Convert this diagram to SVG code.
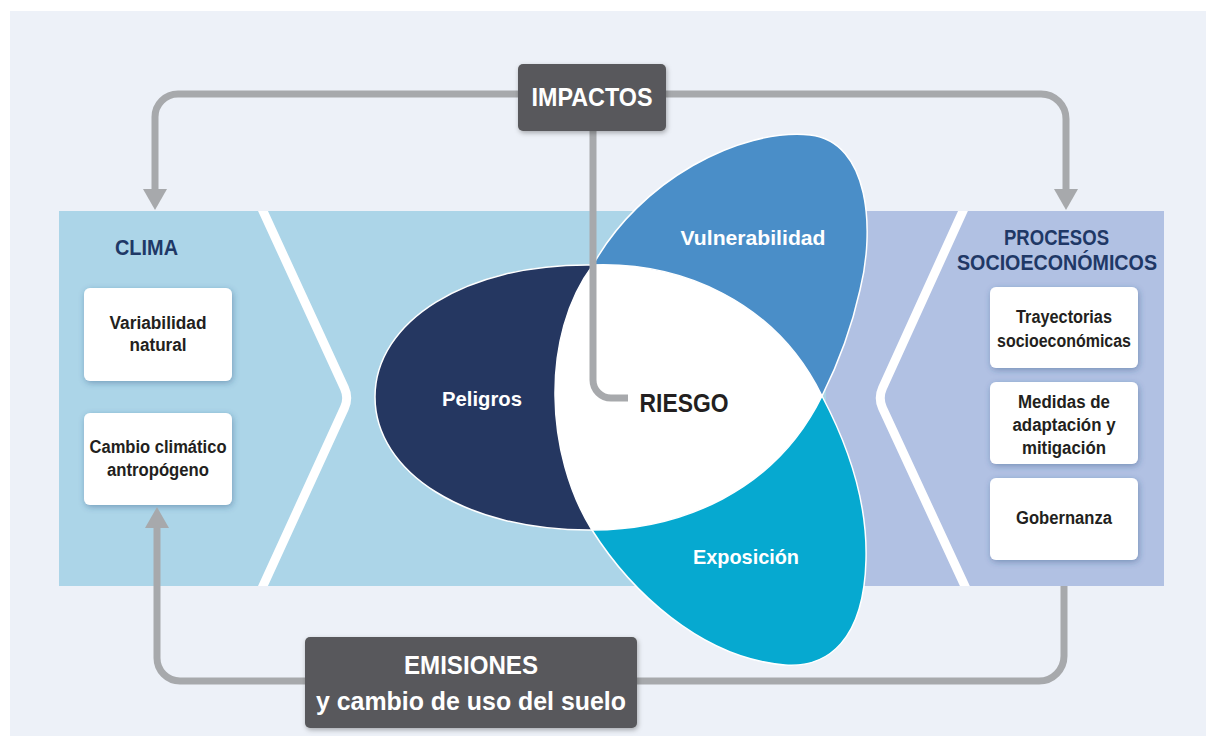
<svg xmlns="http://www.w3.org/2000/svg" width="1206" height="736" viewBox="0 0 1206 736">
<defs>
<style>
text{font-family:"Liberation Sans",Arial,sans-serif;font-weight:bold;text-anchor:middle}
.hd{fill:#1f3866;font-size:22px}
.bx{fill:#fff;filter:url(#sh)}
.bt{fill:#231f20;font-size:18px}
.pt{fill:#fff;font-size:21px}
.petal{stroke:#fff;stroke-width:1.5}
.dk{fill:#58595b;filter:url(#sh2)}
.wt{fill:#fff;font-size:26px}
.cn{fill:none;stroke:#a7a9ac;stroke-width:7}
.chev{fill:none;stroke:#fff;stroke-width:9;stroke-linejoin:round}
</style>
<filter id="sh" x="-20%" y="-20%" width="140%" height="140%"><feDropShadow dx="1" dy="2" stdDeviation="3" flood-color="#2c4c7c" flood-opacity="0.4"/></filter>
<filter id="sh2" x="-20%" y="-20%" width="140%" height="140%"><feDropShadow dx="1" dy="2" stdDeviation="2.5" flood-color="#000" flood-opacity="0.3"/></filter>
<clipPath id="bandclip"><rect x="59" y="211" width="1105" height="375"/></clipPath>
<marker id="ah" viewBox="0 0 21 24" refX="0" refY="12" markerWidth="21" markerHeight="24" markerUnits="userSpaceOnUse" orient="auto"><path d="M0,0 L21,12 L0,24 Z" fill="#a7a9ac"/></marker>
</defs>

<g id="background">
<rect width="1206" height="736" fill="#fff"/>
<rect x="10" y="11" width="1196" height="725" fill="#edf1f8"/>
<rect x="59" y="211" width="767" height="375" fill="#acd5e8"/>
<rect x="826" y="211" width="338" height="375" fill="#b1c1e3"/>
<g clip-path="url(#bandclip)">
<path class="chev" d="M258.4,201 L344.4,388 Q349,398 344.4,408 L258.4,596"/>
<path class="chev" d="M967.5,201 L882.5,388 Q878,398 882.5,408 L969.5,596"/>
</g>
</g>

<g id="clima">
<text class="hd" x="146.5" y="255" textLength="63" lengthAdjust="spacingAndGlyphs">CLIMA</text>
</g>
<g id="variabilidad">
<rect class="bx" x="84" y="288" width="148" height="93" rx="6"/>
<text class="bt" x="158" y="329" textLength="97" lengthAdjust="spacingAndGlyphs">Variabilidad</text>
<text class="bt" x="158" y="351" textLength="57" lengthAdjust="spacingAndGlyphs">natural</text>
</g>
<g id="cambio">
<rect class="bx" x="84" y="413" width="148" height="92" rx="6"/>
<text class="bt" x="158" y="453" textLength="137" lengthAdjust="spacingAndGlyphs">Cambio climático</text>
<text class="bt" x="158" y="476" textLength="102" lengthAdjust="spacingAndGlyphs">antropógeno</text>
</g>

<g id="procesos">
<text class="hd" x="1056.5" y="245" textLength="105" lengthAdjust="spacingAndGlyphs">PROCESOS</text>
<text class="hd" x="1057" y="270" textLength="200" lengthAdjust="spacingAndGlyphs">SOCIOECONÓMICOS</text>
</g>
<g id="trayectorias">
<rect class="bx" x="990" y="287" width="148" height="81" rx="6"/>
<text class="bt" x="1064" y="323" textLength="96" lengthAdjust="spacingAndGlyphs">Trayectorias</text>
<text class="bt" x="1064" y="347" textLength="134" lengthAdjust="spacingAndGlyphs">socioeconómicas</text>
</g>
<g id="medidas">
<rect class="bx" x="990" y="382" width="148" height="82" rx="6"/>
<text class="bt" x="1064" y="408" textLength="92" lengthAdjust="spacingAndGlyphs">Medidas de</text>
<text class="bt" x="1064" y="431" textLength="103" lengthAdjust="spacingAndGlyphs">adaptación y</text>
<text class="bt" x="1064" y="454" textLength="84" lengthAdjust="spacingAndGlyphs">mitigación</text>
</g>
<g id="gobernanza">
<rect class="bx" x="990" y="478" width="148" height="82" rx="6"/>
<text class="bt" x="1064" y="524" textLength="96" lengthAdjust="spacingAndGlyphs">Gobernanza</text>
</g>

<g id="peligros">
<path class="petal" fill="#253761" d="M593,265 C465,263 375,322 375,397 C375,472 465,531 592,530 Z"/>
<text class="pt" x="482" y="406" textLength="80" lengthAdjust="spacingAndGlyphs">Peligros</text>
</g>
<g id="vulnerabilidad">
<path class="petal" fill="#4a8ec8" d="M593,265 C640,180 740,128 810,135 C870,142 875,230 860,290 C850,335 835,370 822,396 Z"/>
<text class="pt" x="753" y="245" textLength="145" lengthAdjust="spacingAndGlyphs">Vulnerabilidad</text>
</g>
<g id="exposicion">
<path class="petal" fill="#06a9d0" d="M822,396 C840,430 868,490 866,560 C864,640 828,668 785,665 C700,658 630,590 592,530 Z"/>
<text class="pt" x="746" y="564" textLength="106" lengthAdjust="spacingAndGlyphs">Exposición</text>
</g>
<g id="riesgo">
<path class="petal" fill="#fff" d="M593,265 C680,262 775,300 822,396 C775,492 680,530 592,530 C545,455 540,335 593,265 Z"/>
</g>

<g id="connectors">
<path class="cn" d="M518,94 H178 A23,23 0 0 0 155,117 V189" marker-end="url(#ah)"/>
<path class="cn" d="M666,94 H1041 A25,25 0 0 1 1066,119 V189" marker-end="url(#ah)"/>
<path class="cn" d="M593,131 V380 A18,18 0 0 0 611,398 H628"/>
<path class="cn" d="M1064,586 V656 A25,25 0 0 1 1039,681 H637"/>
<path class="cn" d="M305,681 H180 A23,23 0 0 1 157,658 V528" marker-end="url(#ah)"/>
</g>

<g id="riesgo-label">
<text x="684" y="412" fill="#231f20" font-size="26" textLength="89" lengthAdjust="spacingAndGlyphs">RIESGO</text>
</g>

<g id="impactos">
<rect class="dk" x="518" y="64" width="148" height="67" rx="5"/>
<text class="wt" x="592" y="106" font-size="27" textLength="121" lengthAdjust="spacingAndGlyphs">IMPACTOS</text>
</g>
<g id="emisiones">
<rect class="dk" x="305" y="637" width="332" height="91" rx="5"/>
<text class="wt" x="471" y="674" textLength="134" lengthAdjust="spacingAndGlyphs">EMISIONES</text>
<text class="wt" x="471" y="710" textLength="310" lengthAdjust="spacingAndGlyphs">y cambio de uso del suelo</text>
</g>
</svg>
